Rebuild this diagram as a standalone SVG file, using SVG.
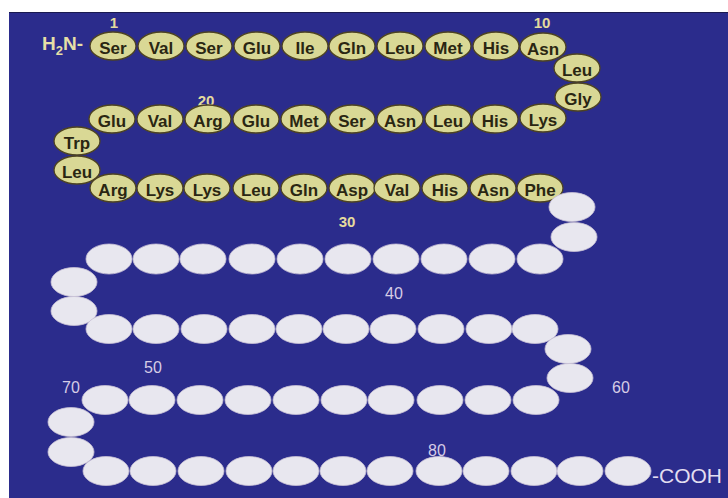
<svg xmlns="http://www.w3.org/2000/svg" width="728" height="498" viewBox="0 0 728 498">
<style>
.bg{fill:#2b2c8c}
.y{fill:#d9d895;stroke:#4d4322;stroke-width:1.3}
.w{fill:#e8e7ef;stroke:#c9c2d6;stroke-width:0.8}
.aa{font-family:"Liberation Sans",Arial,sans-serif;font-weight:bold;font-size:17px;fill:#2a2612;text-anchor:middle}
.ny{font-family:"Liberation Sans",Arial,sans-serif;font-weight:bold;font-size:15px;fill:#e4db9e;text-anchor:middle}
.nw{font-family:"Liberation Sans",Arial,sans-serif;font-size:16px;fill:#d6cce6;text-anchor:middle}
.term{font-family:"Liberation Sans",Arial,sans-serif;font-weight:bold;font-size:19px;fill:#e6dfa6}
.cooh{font-family:"Liberation Sans",Arial,sans-serif;font-size:21px;fill:#e2def0}
</style>
<rect x="0" y="0" width="728" height="498" fill="#ffffff"/>
<rect class="bg" x="9" y="12" width="719" height="486"/>
<line x1="9" y1="12.5" x2="728" y2="12.5" stroke="#1a1a50" stroke-width="1"/>
<g id="connectors"/>
<g id="labels">
<text class="term" x="42" y="50">H<tspan font-size="13" dy="5">2</tspan><tspan dy="-5">N-</tspan></text>
<text class="ny" x="114" y="28">1</text>
<text class="ny" x="542" y="28">10</text>
<text class="ny" x="206" y="106">20</text>
<text class="ny" x="347" y="227">30</text>
<text class="nw" x="394" y="299">40</text>
<text class="nw" x="153" y="373">50</text>
<text class="nw" x="621" y="393">60</text>
<text class="nw" x="71" y="393">70</text>
<text class="nw" x="437" y="456">80</text>
<text class="cooh" x="652" y="483">-COOH</text>
</g>
<g id="r1"><ellipse class="y" cx="113" cy="46" rx="23" ry="14"/><text class="aa" x="113" y="54">Ser</text></g>
<g id="r2"><ellipse class="y" cx="161" cy="46" rx="23" ry="14"/><text class="aa" x="161" y="54">Val</text></g>
<g id="r3"><ellipse class="y" cx="209" cy="46" rx="23" ry="14"/><text class="aa" x="209" y="54">Ser</text></g>
<g id="r4"><ellipse class="y" cx="257" cy="46" rx="23" ry="14"/><text class="aa" x="257" y="54">Glu</text></g>
<g id="r5"><ellipse class="y" cx="305" cy="46" rx="23" ry="14"/><text class="aa" x="305" y="54">Ile</text></g>
<g id="r6"><ellipse class="y" cx="352" cy="46" rx="23" ry="14"/><text class="aa" x="352" y="54">Gln</text></g>
<g id="r7"><ellipse class="y" cx="400" cy="46" rx="23" ry="14"/><text class="aa" x="400" y="54">Leu</text></g>
<g id="r8"><ellipse class="y" cx="448" cy="46" rx="23" ry="14"/><text class="aa" x="448" y="54">Met</text></g>
<g id="r9"><ellipse class="y" cx="496" cy="46" rx="23" ry="14"/><text class="aa" x="496" y="54">His</text></g>
<g id="r10"><ellipse class="y" cx="543" cy="47" rx="23" ry="14"/><text class="aa" x="543" y="55">Asn</text></g>
<g id="r11"><ellipse class="y" cx="577" cy="68" rx="23" ry="14"/><text class="aa" x="577" y="76">Leu</text></g>
<g id="r12"><ellipse class="y" cx="578" cy="97" rx="23" ry="14"/><text class="aa" x="578" y="105">Gly</text></g>
<g id="r13"><ellipse class="y" cx="543" cy="118" rx="23" ry="14"/><text class="aa" x="543" y="126">Lys</text></g>
<g id="r14"><ellipse class="y" cx="495" cy="119" rx="23" ry="14"/><text class="aa" x="495" y="127">His</text></g>
<g id="r15"><ellipse class="y" cx="448" cy="119" rx="23" ry="14"/><text class="aa" x="448" y="127">Leu</text></g>
<g id="r16"><ellipse class="y" cx="400" cy="119" rx="23" ry="14"/><text class="aa" x="400" y="127">Asn</text></g>
<g id="r17"><ellipse class="y" cx="352" cy="119" rx="23" ry="14"/><text class="aa" x="352" y="127">Ser</text></g>
<g id="r18"><ellipse class="y" cx="304" cy="119" rx="23" ry="14"/><text class="aa" x="304" y="127">Met</text></g>
<g id="r19"><ellipse class="y" cx="256" cy="119" rx="23" ry="14"/><text class="aa" x="256" y="127">Glu</text></g>
<g id="r20"><ellipse class="y" cx="208" cy="119" rx="23" ry="14"/><text class="aa" x="208" y="127">Arg</text></g>
<g id="r21"><ellipse class="y" cx="160" cy="119" rx="23" ry="14"/><text class="aa" x="160" y="127">Val</text></g>
<g id="r22"><ellipse class="y" cx="112" cy="119" rx="23" ry="14"/><text class="aa" x="112" y="127">Glu</text></g>
<g id="r23"><ellipse class="y" cx="77" cy="141" rx="23" ry="14"/><text class="aa" x="77" y="149">Trp</text></g>
<g id="r24"><ellipse class="y" cx="77" cy="170" rx="23" ry="14"/><text class="aa" x="77" y="178">Leu</text></g>
<g id="r25"><ellipse class="y" cx="113" cy="188" rx="23" ry="14"/><text class="aa" x="113" y="196">Arg</text></g>
<g id="r26"><ellipse class="y" cx="160" cy="188" rx="23" ry="14"/><text class="aa" x="160" y="196">Lys</text></g>
<g id="r27"><ellipse class="y" cx="207" cy="188" rx="23" ry="14"/><text class="aa" x="207" y="196">Lys</text></g>
<g id="r28"><ellipse class="y" cx="256" cy="188" rx="23" ry="14"/><text class="aa" x="256" y="196">Leu</text></g>
<g id="r29"><ellipse class="y" cx="304" cy="188" rx="23" ry="14"/><text class="aa" x="304" y="196">Gln</text></g>
<g id="r30"><ellipse class="y" cx="352" cy="188" rx="23" ry="14"/><text class="aa" x="352" y="196">Asp</text></g>
<g id="r31"><ellipse class="y" cx="397" cy="188" rx="23" ry="14"/><text class="aa" x="397" y="196">Val</text></g>
<g id="r32"><ellipse class="y" cx="445" cy="188" rx="23" ry="14"/><text class="aa" x="445" y="196">His</text></g>
<g id="r33"><ellipse class="y" cx="493" cy="188" rx="23" ry="14"/><text class="aa" x="493" y="196">Asn</text></g>
<g id="r34"><ellipse class="y" cx="540" cy="188" rx="23" ry="14"/><text class="aa" x="540" y="196">Phe</text></g>
<g id="r35"><ellipse class="w" cx="572" cy="207" rx="23" ry="14.5"/></g>
<g id="r36"><ellipse class="w" cx="574" cy="237" rx="23" ry="14.5"/></g>
<g id="r37"><ellipse class="w" cx="540" cy="259" rx="23" ry="15"/></g>
<g id="r38"><ellipse class="w" cx="492" cy="259" rx="23" ry="15"/></g>
<g id="r39"><ellipse class="w" cx="444" cy="259" rx="23" ry="15"/></g>
<g id="r40"><ellipse class="w" cx="396" cy="259" rx="23" ry="15"/></g>
<g id="r41"><ellipse class="w" cx="348" cy="259" rx="23" ry="15"/></g>
<g id="r42"><ellipse class="w" cx="300" cy="259" rx="23" ry="15"/></g>
<g id="r43"><ellipse class="w" cx="252" cy="259" rx="23" ry="15"/></g>
<g id="r44"><ellipse class="w" cx="203" cy="259" rx="23" ry="15"/></g>
<g id="r45"><ellipse class="w" cx="156" cy="259" rx="23" ry="15"/></g>
<g id="r46"><ellipse class="w" cx="109" cy="259" rx="23" ry="15"/></g>
<g id="r47"><ellipse class="w" cx="74" cy="282" rx="23" ry="14.5"/></g>
<g id="r48"><ellipse class="w" cx="74" cy="311" rx="23" ry="14.5"/></g>
<g id="r49"><ellipse class="w" cx="109" cy="329" rx="23" ry="14.5"/></g>
<g id="r50"><ellipse class="w" cx="156" cy="329" rx="23" ry="14.5"/></g>
<g id="r51"><ellipse class="w" cx="204" cy="329" rx="23" ry="14.5"/></g>
<g id="r52"><ellipse class="w" cx="252" cy="329" rx="23" ry="14.5"/></g>
<g id="r53"><ellipse class="w" cx="299" cy="329" rx="23" ry="14.5"/></g>
<g id="r54"><ellipse class="w" cx="346" cy="329" rx="23" ry="14.5"/></g>
<g id="r55"><ellipse class="w" cx="393" cy="329" rx="23" ry="14.5"/></g>
<g id="r56"><ellipse class="w" cx="441" cy="329" rx="23" ry="14.5"/></g>
<g id="r57"><ellipse class="w" cx="489" cy="329" rx="23" ry="14.5"/></g>
<g id="r58"><ellipse class="w" cx="535" cy="329" rx="23" ry="14.5"/></g>
<g id="r59"><ellipse class="w" cx="568" cy="349" rx="23" ry="14.5"/></g>
<g id="r60"><ellipse class="w" cx="570" cy="378" rx="23" ry="14.5"/></g>
<g id="r61"><ellipse class="w" cx="536" cy="400" rx="23" ry="14.5"/></g>
<g id="r62"><ellipse class="w" cx="488" cy="400" rx="23" ry="14.5"/></g>
<g id="r63"><ellipse class="w" cx="440" cy="400" rx="23" ry="14.5"/></g>
<g id="r64"><ellipse class="w" cx="391" cy="400" rx="23" ry="14.5"/></g>
<g id="r65"><ellipse class="w" cx="344" cy="400" rx="23" ry="14.5"/></g>
<g id="r66"><ellipse class="w" cx="296" cy="400" rx="23" ry="14.5"/></g>
<g id="r67"><ellipse class="w" cx="248" cy="400" rx="23" ry="14.5"/></g>
<g id="r68"><ellipse class="w" cx="200" cy="400" rx="23" ry="14.5"/></g>
<g id="r69"><ellipse class="w" cx="152" cy="400" rx="23" ry="14.5"/></g>
<g id="r70"><ellipse class="w" cx="105" cy="400" rx="23" ry="14.5"/></g>
<g id="r71"><ellipse class="w" cx="71" cy="422" rx="23" ry="14.5"/></g>
<g id="r72"><ellipse class="w" cx="71" cy="452" rx="23" ry="14.5"/></g>
<g id="r73"><ellipse class="w" cx="106" cy="471" rx="23" ry="14.5"/></g>
<g id="r74"><ellipse class="w" cx="153" cy="471" rx="23" ry="14.5"/></g>
<g id="r75"><ellipse class="w" cx="201" cy="471" rx="23" ry="14.5"/></g>
<g id="r76"><ellipse class="w" cx="249" cy="471" rx="23" ry="14.5"/></g>
<g id="r77"><ellipse class="w" cx="296" cy="471" rx="23" ry="14.5"/></g>
<g id="r78"><ellipse class="w" cx="343" cy="471" rx="23" ry="14.5"/></g>
<g id="r79"><ellipse class="w" cx="390" cy="471" rx="23" ry="14.5"/></g>
<g id="r80"><ellipse class="w" cx="439" cy="471" rx="23" ry="14.5"/></g>
<g id="r81"><ellipse class="w" cx="486" cy="471" rx="23" ry="14.5"/></g>
<g id="r82"><ellipse class="w" cx="534" cy="471" rx="23" ry="14.5"/></g>
<g id="r83"><ellipse class="w" cx="580" cy="471" rx="23" ry="14.5"/></g>
<g id="r84"><ellipse class="w" cx="628" cy="471" rx="23" ry="14.5"/></g>
</svg>
